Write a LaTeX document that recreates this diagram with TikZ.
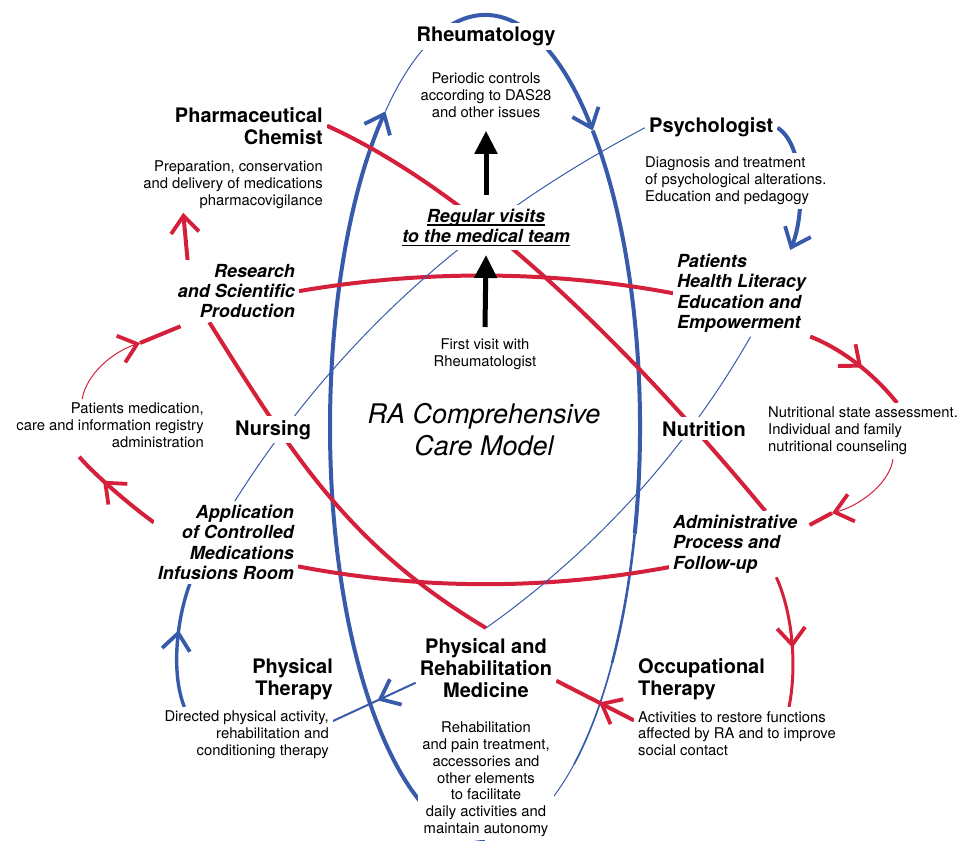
\documentclass[tikz,border=0pt]{standalone}
\usepackage{fontspec}
\setmainfont{TeX Gyre Heros}
\usetikzlibrary{arrows.meta,decorations.markings,backgrounds,positioning}

\definecolor{rared}{RGB}{212,32,58}
\definecolor{rablue}{RGB}{55,91,170}
\newcommand{\teamul}[1]{\setbox0\hbox{#1}\rlap{\rule[-3pt]{\wd0}{1.3pt}}\box0}

\begin{document}
\begin{tikzpicture}[x=1pt,y=-1pt,
    >={Straight Barb[length=17pt 0,width=28pt 0,line width=3.8pt 0]},
    main node/.style={font=\fontsize{20}{22}\selectfont\bfseries,fill=white,inner sep=4pt},
    area node/.style={font=\fontsize{18}{20.3}\selectfont\bfseries\itshape,fill=white,inner sep=4pt},
    text node/.style={font=\fontsize{14.8}{16.7}\selectfont,fill=white,inner sep=4pt},
    red line/.style={draw=rared,line width=4pt},
    blue line/.style={draw=rablue,line width=4pt},
    midarrow/.style={postaction={decorate},decoration={markings,mark=at position #1 with {\arrow{>}}}}]
    \useasboundingbox (0,0) rectangle (961,842);

    \node[main node,anchor=base] (1) at (486,42) {Rheumatology};
    \node[text node,align=center,anchor=north] (1t) at (486,69) {Periodic controls\\according to DAS28\\and other issues};
    \node[main node,align=right,anchor=north east] (2) at (327,103) {Pharmaceutical\\Chemist};
    \node[text node,align=right,anchor=north east] (2t) at (327,157) {Preparation, conservation\\and delivery of medications\\pharmacovigilance};
    \node[main node,anchor=base west] (10) at (645,133) {Psychologist};
    \node[text node,align=left,anchor=north west] (10t) at (641,153) {Diagnosis and treatment\\of psychological alterations.\\Education and pedagogy};
    \node[area node,align=right,anchor=north east] (3) at (299,260) {Research\\and Scientific\\Production};
    \node[area node,align=left,anchor=north west] (4) at (673,250) {Patients\\Health Literacy\\Education and\\Empowerment};
    \node[area node,align=center,anchor=north] (12) at (486,205) {\teamul{Regular visits}\\\teamul{to the medical team}};
    \node[text node,align=center,anchor=north] (12t) at (485,335) {First visit with\\Rheumatologist};
    \node[font=\fontsize{27}{32}\selectfont\itshape,align=center,fill=white] (14) at (484,430) {RA Comprehensive\\Care Model};
    \node[main node,anchor=base west] (6) at (231,435) {Nursing};
    \node[text node,align=right,anchor=north east] (6t) at (208,399) {Patients medication,\\care and information registry\\administration};
    \node[main node,anchor=base west] (7) at (658,436) {Nutrition};
    \node[text node,align=left,anchor=north west] (7t) at (764,403) {Nutritional state assessment.\\Individual and family\\nutritional counseling};
    \node[area node,align=right,anchor=north east] (5) at (298,501) {Application\\of Controlled\\Medications\\Infusions Room};
    \node[area node,align=left,anchor=north west] (11) at (669,511) {Administrative\\Process and\\Follow-up};
    \node[main node,align=right,anchor=north east] (8) at (337,654) {Physical\\Therapy};
    \node[text node,align=right,anchor=north east] (8t) at (333,707) {Directed physical activity,\\rehabilitation and\\conditioning therapy};
    \node[main node,align=center,anchor=north] (13) at (486,634) {Physical and\\Rehabilitation\\Medicine};
    \node[text node,align=center,anchor=north] (13t) at (486,718) {Rehabilitation\\and pain treatment,\\accessories and\\other elements\\to facilitate\\daily activities and\\maintain autonomy};
    \node[main node,align=left,anchor=north west] (9) at (634,654) {Occupational\\Therapy};
    \node[text node,align=left,anchor=north west] (9t) at (634,707) {Activities to restore functions\\affected by RA and to improve\\social contact};

    \begin{pgfonlayer}{background}
        % the big loop round the team
        \draw[blue line,->] (485,839) arc[start angle=90,end angle=230,x radius=155,y radius=412];
        \draw[blue line,line width=1pt] (385.4,111.4) arc[start angle=230,end angle=255,x radius=155,y radius=412];
        \draw[blue line,->] (444.9,29) arc[start angle=255,end angle=314,x radius=155,y radius=412];
        \draw[blue line] (592.7,130.6) arc[start angle=314,end angle=375,x radius=155,y radius=412];
        \draw[blue line,line width=2.6pt] (634.7,533.6) arc[start angle=15,end angle=35,x radius=155,y radius=412];
        \draw[blue line,line width=1.7pt] (612,663.3) arc[start angle=35,end angle=55,x radius=155,y radius=412];
        \draw[blue line,line width=1pt] (573.9,764.5) arc[start angle=55,end angle=90,x radius=155,y radius=412];

        \draw[red line] (2.east) .. controls (480,195) and (640,360) .. ([xshift=30pt]11.north);
        \draw[red line] ([xshift=-27pt]3.south) .. controls (294,457) and (349,546) .. ([yshift=6pt]13.north);
        \draw[red line] (3.east) .. controls (422,270) and (550,270) .. (4.west);
        \draw[red line] ([yshift=-24pt]5.east) .. controls (422,590) and (547,590) .. ([yshift=-23pt]11.west);
        \draw[red line,midarrow=0.55] (4.south east) .. controls (842,349) and (874,374) .. ([xshift=34pt]7t.north);
        \coordinate (f) at (832,513);
        \draw[red line,line width=1pt,->] ([xshift=30pt]7t.south) .. controls (890,482) and (862,505) .. (f);
        \draw[red line] (f) -- ([xshift=8pt,yshift=-14pt]11.north east);
        \draw[red line,line width=3pt,midarrow=0.55] ([xshift=41pt]11.south) .. controls (793,614) and (797,668) .. ([xshift=52pt]9t.north);
        \draw[red line,midarrow=0.45] ([yshift=13pt]9t.west) -- ([yshift=-13pt]13.east);
        \draw[red line,midarrow=0.66] ([yshift=20pt]5.west) .. controls (130,505) and (97,477) .. ([xshift=67pt,yshift=-5pt]6t.south west);
        \coordinate (o) at (140,343);
        \draw[red line,line width=1pt,->] ([xshift=70pt]6t.north west) .. controls (86,375) and (112,352) .. (o);
        \draw[red line] (o) -- ([xshift=7pt,yshift=-4pt]3.south west);
        \draw[red line,->] ([xshift=14pt]3.north west) -- ([xshift=44pt]2t.south west);

        \draw[blue line,->] (10.east) .. controls (805,145) and (805,215) .. ([xshift=-20pt]4.north east);
        \draw[blue line,line width=1pt] (10.west) .. controls (485,212) and (345,327) .. ([xshift=9pt]5.north);
        \draw[blue line,line width=3.4pt,midarrow=0.62] ([xshift=24pt]8t.north west) .. controls (170,670) and (178,615) .. ([xshift=-36pt]5.south);
        \draw[blue line,line width=1pt] ([xshift=9pt]4.south) .. controls (686,450) and (596,550) .. ([yshift=6pt]13.north);
        \draw[blue line,line width=2pt,midarrow=0.46] ([yshift=-15pt]13.west) -- ([yshift=-14pt]8t.north east);

        \draw[line width=5pt,-{Triangle[length=23pt 0,width=22pt 0]}] ([yshift=8pt]12t.north) -- ([yshift=-5pt]12.south);
        \draw[line width=5pt,-{Triangle[length=23pt 0,width=22pt 0]}] ([yshift=10pt]12.north) -- ([yshift=-9pt]1t.south);
    \end{pgfonlayer}
\end{tikzpicture}
\end{document}
